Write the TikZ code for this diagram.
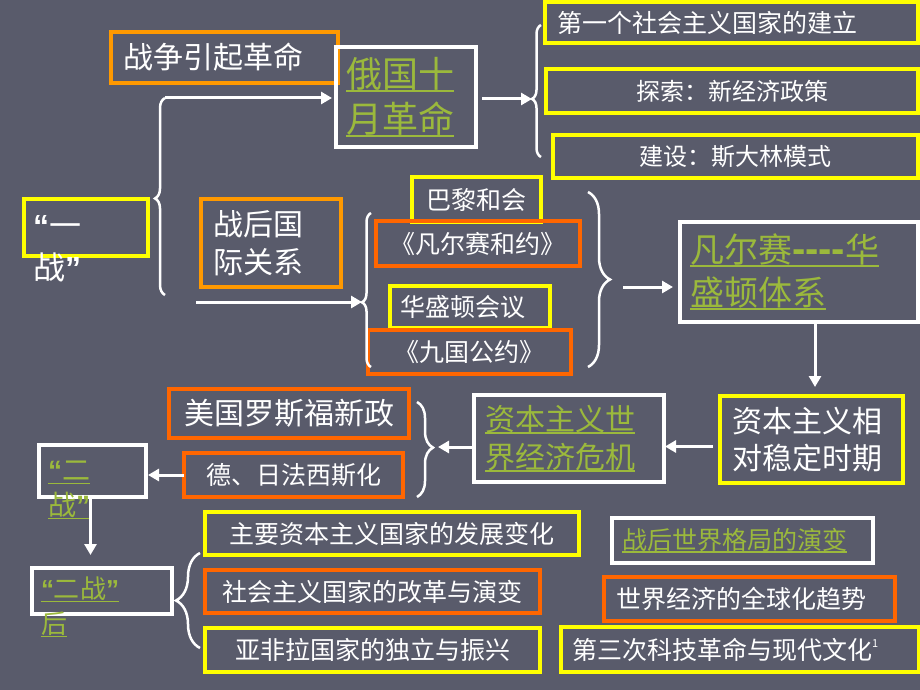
\documentclass[tikz,border=0pt]{standalone}
\usepackage{fontspec}
\newfontfamily\cjk{Noto Sans CJK SC}
\newfontfamily\latq{Liberation Sans}
\usetikzlibrary{arrows.meta,decorations.pathreplacing}
\definecolor{bgc}{RGB}{89,91,107}
\definecolor{yeA}{RGB}{255,255,0}
\definecolor{orA}{RGB}{255,153,0}
\definecolor{reA}{RGB}{255,102,0}
\definecolor{grA}{RGB}{155,185,60}
\newcommand\fsz[2]{\fontsize{#1pt}{#2pt}\selectfont\cjk}
\newcommand\qlft{{\latq\bfseries “}}
\newcommand\qrgt{{\latq\bfseries ”}}
\newsavebox\gulbox
\newcommand\gul[1]{\sbox\gulbox{#1}\leavevmode\rlap{\rule[-0.14em]{\wd\gulbox}{0.06em}}\usebox\gulbox}
\begin{document}
\begin{tikzpicture}[x=1pt,y=-1pt,
  bx/.style={draw=#1, line width=3.5pt, anchor=north west, inner sep=0pt, outer sep=0pt, text=white},
  txt/.style={inner sep=0pt, outer sep=0pt, anchor=west, align=left},
  wl/.style={draw=white, line width=3pt},
  arr/.style={wl, -{Triangle[length=11pt,width=12pt]}},
  brc/.style={draw=white, line width=2.5pt, decorate},
]
\fill[bgc] (0,0) rectangle (920,690);
\useasboundingbox (0,0) rectangle (920,690);

% boxes
\node[bx=orA, minimum width=227pt, minimum height=51pt, text width=203pt, inner xsep=12pt, align=left, font=\fsz{30}{36}] (war) at (111,32) {战争引起革命};
\node[bx=white, text=grA, minimum width=140pt, minimum height=100pt, text width=120pt, inner xsep=10pt, align=left, font=\fsz{36}{45}] (oct) at (336,47) {\gul{俄国十}\\\gul{月革命}};
\node[bx=yeA, minimum width=373pt, minimum height=41pt, text width=349pt, inner xsep=12pt, align=left, font=\fsz{25}{30}] (first) at (545,2) {第一个社会主义国家的建立};
\node[bx=yeA, minimum width=372pt, minimum height=44pt, font=\fsz{24}{30}] (explore) at (546,69) {探索：新经济政策};
\node[bx=yeA, minimum width=365pt, minimum height=43pt, font=\fsz{24}{30}] (build) at (553,135) {建设：斯大林模式};

\node[bx=yeA, minimum width=124pt, minimum height=57pt] (yz) at (24,199) {};
\node[txt, text=white, font=\fsz{32}{42}] (yzt) at (33,249) {\qlft 一\\战\qrgt};

\node[bx=orA, minimum width=140pt, minimum height=88pt, text width=116pt, inner xsep=12pt, align=left, font=\fsz{30}{38}] (postwar) at (201,199) {战后国\\际关系};
\node[bx=yeA, minimum width=129pt, minimum height=45pt, font=\fsz{25}{30}] (paris) at (412,177) {巴黎和会};
\node[bx=reA, minimum width=204pt, minimum height=45pt, font=\fsz{25}{30}] (versailles) at (376,221) {《凡尔赛和约》};
\node[bx=yeA, minimum width=160pt, minimum height=42pt, text width=140pt, inner xsep=10pt, align=left, font=\fsz{25}{30}] (washington) at (390,286) {华盛顿会议};
\node[bx=reA, minimum width=203pt, minimum height=44pt, font=\fsz{25}{30}] (ninepower) at (368,330) {《九国公约》};

\node[bx=white, text=grA, minimum width=238pt, minimum height=100pt, text width=218pt, inner xsep=10pt, align=left, font=\fsz{34}{43}] (vw) at (680,222) {\gul{凡尔赛{\latq\bfseries\fontsize{40pt}{43pt}\selectfont ----}华}\\\gul{盛顿体系}};
\node[bx=yeA, minimum width=183pt, minimum height=87pt, text width=159pt, inner xsep=12pt, align=left, font=\fsz{30}{37}] (stable) at (720,396) {资本主义相\\对稳定时期};
\node[bx=white, text=grA, minimum width=190pt, minimum height=87pt, text width=168pt, inner xsep=11pt, align=left, font=\fsz{30}{38}] (crisis) at (474,395) {\gul{资本主义世}\\\gul{界经济危机}};
\node[bx=reA, minimum width=240pt, minimum height=49pt, font=\fsz{30}{36}] (roosevelt) at (169,389) {美国罗斯福新政};
\node[bx=reA, minimum width=219pt, minimum height=44pt, font=\fsz{25}{30}] (fascism) at (184,453) {德、日法西斯化};

\node[bx=white, minimum width=107pt, minimum height=52pt] (erzhan) at (39,445) {};
\node[txt, text=grA, font=\fsz{28}{35}] (erzhant) at (48,490) {\gul{\qlft 二}\\\gul{战\qrgt}};
\node[bx=white, minimum width=140pt, minimum height=46pt] (ehou) at (32,568) {};
\node[txt, text=grA, font=\fsz{26}{35}] (ehout) at (41,607) {\gul{\qlft 二战\qrgt}\\\gul{后}};

\node[bx=yeA, minimum width=374pt, minimum height=43pt, font=\fsz{25}{30}] (major) at (205,512) {主要资本主义国家的发展变化};
\node[bx=reA, minimum width=335pt, minimum height=43pt, font=\fsz{25}{30}] (socialist) at (205,570) {社会主义国家的改革与演变};
\node[bx=yeA, minimum width=335pt, minimum height=44pt, font=\fsz{25}{30}] (afrasia) at (205,628) {亚非拉国家的独立与振兴};
\node[bx=white, text=grA, minimum width=261pt, minimum height=45pt, text width=241pt, inner xsep=10pt, align=left, font=\fsz{25}{30}] (pattern) at (612,518) {\gul{战后世界格局的演变}};
\node[bx=reA, minimum width=291pt, minimum height=44pt, text width=267pt, inner xsep=12pt, align=left, font=\fsz{25}{30}] (global) at (604,577) {世界经济的全球化趋势};
\node[bx=yeA, minimum width=358pt, minimum height=45pt, text width=336pt, inner xsep=11pt, align=left, font=\fsz{25}{30}] (third) at (561,627) {第三次科技革命与现代文化\raisebox{0.45em}{\fontsize{11pt}{11pt}\selectfont 1}};

% braces
\draw[brc, decoration={brace, amplitude=10pt, aspect=0.49}] (165,295) -- (165,98);
\draw[brc, decoration={brace, amplitude=9pt, aspect=0.42}] (371,367) -- (371,213);
\draw[brc, decoration={brace, amplitude=9pt, aspect=0.44}] (541,157) -- (541,25);
\draw[brc, decoration={brace, amplitude=22pt, aspect=0.5}] (588,192) -- (588,367);
\draw[brc, decoration={brace, amplitude=16pt, aspect=0.48}] (417,402) -- (417,497);
\draw[brc, decoration={brace, amplitude=24pt, aspect=0.5}] (200,648) -- (200,553);

% connector end points
\coordinate (b1t) at (165,98);
\coordinate (a2s) at (196,302);
\coordinate (t2) at (362,302);
\coordinate (t3) at (532,99);
\coordinate (a4s) at (623,287);
\coordinate (t5) at (433,447);

% arrows
\draw[arr, shorten >=4pt] (b1t) -- (b1t -| oct.west);
\draw[arr] (a2s) -- (t2);
\draw[arr, shorten <=6pt] (oct.east |- t3) -- (t3);
\draw[arr, shorten >=7pt] (a4s) -- (a4s -| vw.west);
\draw[arr, shorten >=9pt] ([xshift=16pt]vw.south) -- ([xshift=16pt]vw.south |- stable.north);
\draw[arr, shorten <=7pt, shorten >=1pt] ([yshift=-7pt]stable.west) -- ([yshift=-7pt]stable.west -| crisis.east);
\draw[arr, shorten >=5pt] (crisis.west |- t5) -- (t5);
\draw[arr, shorten >=2pt] (fascism.west) -- (fascism.west -| erzhan.east);
\draw[arr, shorten >=13pt] ([xshift=-2pt]erzhan.south) -- ([xshift=-2pt]erzhan.south |- ehou.north);
\end{tikzpicture}
\end{document}
